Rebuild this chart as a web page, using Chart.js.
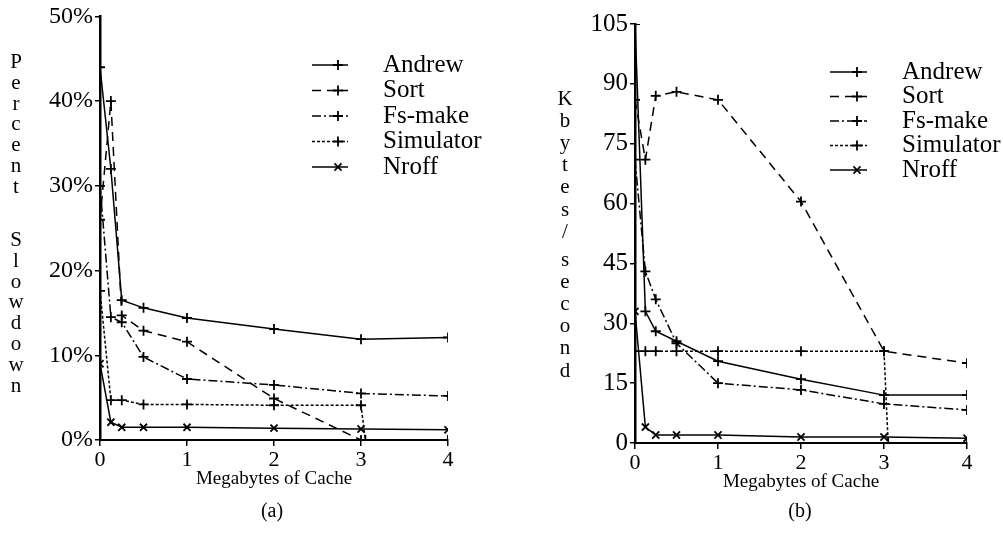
<!DOCTYPE html>
<html>
<head>
<meta charset="utf-8">
<script src="https://cdn.jsdelivr.net/npm/chart.js@4"></script>
<style>
  body{margin:0;background:#fff;width:1003px;height:548px;overflow:hidden;position:relative;font-family:"Liberation Serif",serif;color:#000}
  .box{position:absolute;top:0;height:548px}
  .vt{position:absolute;writing-mode:vertical-lr;text-orientation:upright;font-size:21px;line-height:1}
  .cap{position:absolute;font-size:20px;transform:translate(-50%,-50%)}
</style>
</head>
<body>
<div class="box" style="left:0;width:500px"><canvas id="chartA"></canvas></div>
<div class="box" style="left:500px;width:503px"><canvas id="chartB"></canvas></div>

<div class="vt" style="left:5px;top:49px;letter-spacing:-3.2px">Percent</div>
<div class="vt" style="left:5px;top:227px;letter-spacing:-3.2px">Slowdown</div>
<div class="vt" style="left:554px;top:86px;letter-spacing:-1.9px">Kbytes/</div>
<div class="vt" style="left:554px;top:247px;letter-spacing:-1.9px">second</div>
<div class="cap" style="left:272px;top:510px">(a)</div>
<div class="cap" style="left:800px;top:510px">(b)</div>

<script>
// series names
var names = ["Andrew", "Sort", "Fs-make", "Simulator", "Nroff"];

// cache sizes in megabytes
var cacheMB  = [0, 0.125, 0.25, 0.5, 1, 2, 3, 4];
var cacheSim = [0, 0.125, 0.25, 0.5, 1, 2, 3, 3.05, 4];

// (a) percent slowdown
var slowAndrew = [44, 32, 16.5, 15.6, 14.4, 13.1, 11.9, 12.1];
var slowSort   = [26, 40, 14.7, 12.9, 11.6, 4.9, 0, 0];
var slowFsmake = [30, 14.5, 13.9, 9.8, 7.2, 6.5, 5.5, 5.2];
var slowSim    = [17.6, 4.7, 4.7, 4.2, 4.2, 4.1, 4.1, 0, 0];
var slowNroff  = [9, 2.1, 1.5, 1.5, 1.5, 1.4, 1.3, 1.2];

// (b) kbytes / second
var kbAndrew = [105, 33, 28, 25.5, 20.5, 16, 12, 12];
var kbSort   = [86, 71, 87, 88, 86, 60.5, 23, 20];
var kbFsmake = [71, 43, 36, 25, 15, 13.3, 9.8, 8.3];
var kbSim    = [23, 23, 23, 23, 23, 23, 23, 0, 0];
var kbNroff  = [33, 4, 2, 2, 2, 1.5, 1.5, 1.2];

// tick labels
var xTicks  = [0, 1, 2, 3, 4];
var yTicksA = [0, 10, 20, 30, 40, 50];
var yTicksB = [0, 15, 30, 45, 60, 75, 90, 105];

Chart.defaults.font.family = "Liberation Serif";
Chart.defaults.color = "#000";

function pts(xs, ys){
    var out = [];
    for (var i = 0; i < ys.length; i++) out.push({x: xs[i], y: ys[i]});
    return out;
}

var dashes = [[], [9, 6], [9, 3, 2, 3], [3, 2], []];
var marks  = ["cross", "cross", "cross", "cross", "crossRot"];

function makeSets(lists){
    return lists.map(function(l, i){
        return {
            label: names[i],
            data: pts(l[0], l[1]),
            borderColor: "#000",
            backgroundColor: "#000",
            borderWidth: 1.5,
            borderDash: dashes[i],
            pointStyle: marks[i],
            pointRadius: 5,
            pointBorderWidth: 1.8,
            tension: 0
        };
    });
}

//-----------------------------------------------------------------------------------------
// legend drawn inside the plot, line sample with marker near its right end

var sketchLegend = {
    id: "sketchLegend",
    afterDraw: function(chart, args, o){
        var ctx = chart.ctx;
        ctx.save();
        chart.data.datasets.forEach(function(ds, i){
            var y = o.top + i * o.step;
            ctx.strokeStyle = "#000";
            ctx.lineWidth = 1.5;
            ctx.setLineDash(ds.borderDash);
            ctx.beginPath();
            ctx.moveTo(o.x0, y);
            ctx.lineTo(o.x1, y);
            ctx.stroke();
            ctx.setLineDash([]);
            ctx.lineWidth = 1.8;
            Chart.helpers.drawPoint(ctx, {pointStyle: ds.pointStyle, radius: 5, borderWidth: 1.8}, o.mark, y);
            ctx.fillStyle = "#000";
            ctx.font = o.size + "px 'Liberation Serif'";
            ctx.textBaseline = "middle";
            ctx.textAlign = "left";
            ctx.fillText(ds.label, o.tx, y);
        });
        ctx.restore();
    }
};

function axes(yMax, yWidth, yFont, pct){
    return {
        x: {
            type: "linear", min: 0, max: 4,
            afterBuildTicks: function(s){ s.ticks = xTicks.map(function(v){ return {value: v}; }); },
            afterFit: function(s){ s.height = 53; },
            ticks: {font: {size: 22}, padding: 1},
            grid: {drawOnChartArea: false, tickLength: 6, color: "#000", lineWidth: 1.5},
            border: {color: "#000", width: 2},
            title: {display: true, text: "Megabytes of Cache", font: {size: 19}, padding: {top: 0, bottom: 3}}
        },
        y: {
            min: 0, max: yMax,
            afterBuildTicks: function(s){ s.ticks = (pct ? yTicksA : yTicksB).map(function(v){ return {value: v}; }); },
            afterFit: function(s){ s.width = yWidth; },
            ticks: {font: {size: yFont}, padding: 2, callback: function(v){ return pct ? v + "%" : v; }},
            grid: {drawOnChartArea: false, tickLength: 5, color: "#000", lineWidth: 1.5},
            border: {color: "#000", width: 2.5}
        }
    };
}

var chartA = new Chart(document.getElementById("chartA"), {
    type: "line",
    data: {datasets: makeSets([
        [cacheMB, slowAndrew], [cacheMB, slowSort], [cacheMB, slowFsmake], [cacheSim, slowSim], [cacheMB, slowNroff]
    ])},
    options: {
        responsive: true, maintainAspectRatio: false, animation: false,
        layout: {padding: {left: 0, right: 52, top: 15, bottom: 55}},
        plugins: {legend: {display: false}, tooltip: {enabled: false},
            sketchLegend: {x0: 312, x1: 348, mark: 338, tx: 383, top: 65, step: 25.5, size: 25}},
        scales: axes(50, 100, 24, true)
    },
    plugins: [sketchLegend]
});

var chartB = new Chart(document.getElementById("chartB"), {
    type: "line",
    data: {datasets: makeSets([
        [cacheMB, kbAndrew], [cacheMB, kbSort], [cacheMB, kbFsmake], [cacheSim, kbSim], [cacheMB, kbNroff]
    ])},
    options: {
        responsive: true, maintainAspectRatio: false, animation: false,
        layout: {padding: {left: 0, right: 36, top: 24, bottom: 52}},
        plugins: {legend: {display: false}, tooltip: {enabled: false},
            sketchLegend: {x0: 330, x1: 367, mark: 357, tx: 402, top: 72, step: 24.5, size: 25}},
        scales: axes(105, 135, 25, false)
    },
    plugins: [sketchLegend]
});
</script>
</body>
</html>
